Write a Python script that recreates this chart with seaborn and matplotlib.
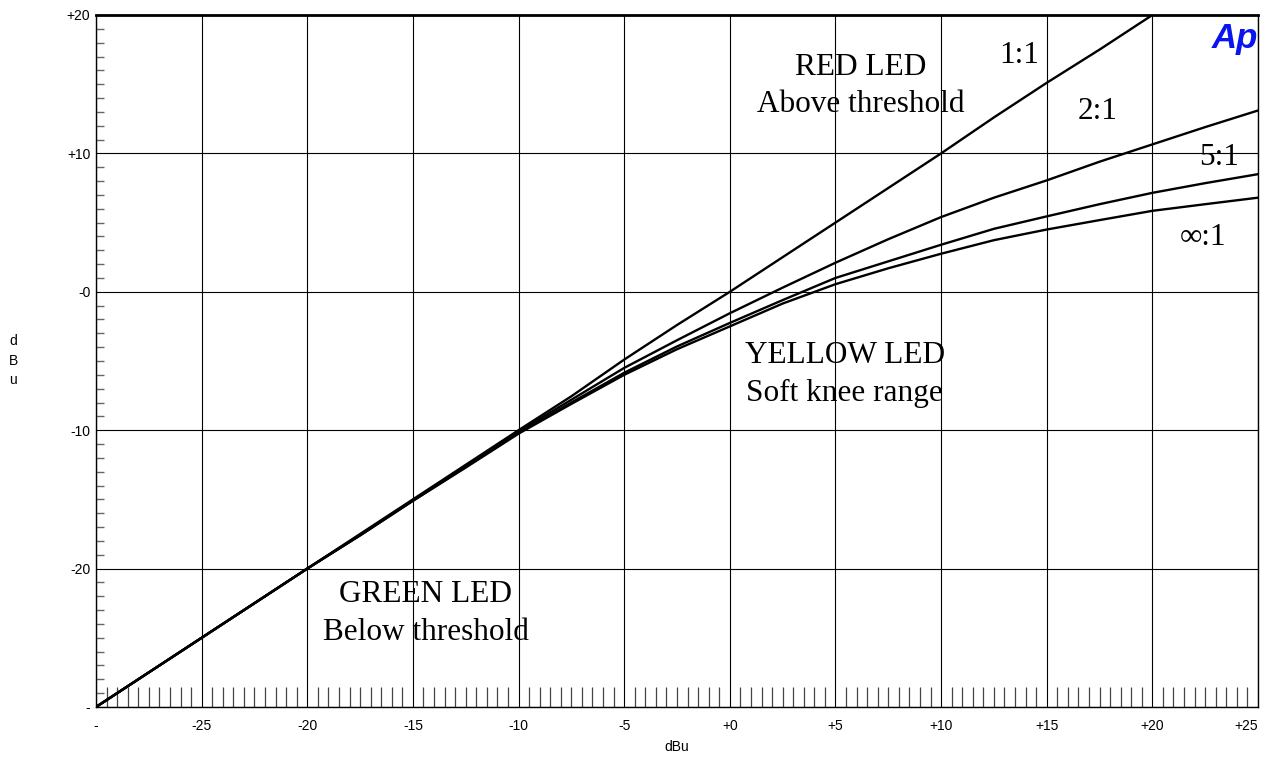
import matplotlib
matplotlib.use("Agg")
import matplotlib.pyplot as plt
import seaborn as sns
import pandas as pd
from matplotlib.ticker import MultipleLocator, FixedLocator

sns.set_style("white")
plt.rcParams["font.family"] = ["Liberation Sans", "DejaVu Sans"]
plt.rcParams["text.color"] = "black"
plt.rcParams["axes.labelcolor"] = "black"
plt.rcParams["xtick.color"] = "black"
plt.rcParams["ytick.color"] = "black"

# Input level (dBu) and measured output level (dBu) for each ratio setting
level_in = [-30, -27.5, -25, -22.5, -20, -17.5, -15, -12.5, -10, -7.5, -5, -2.5,
            0, 2.5, 5, 7.5, 10, 12.5, 15, 17.5, 20, 22.5, 25]
out_1_1 = [-30, -27.5, -25, -22.5, -20, -17.5, -15, -12.5, -10, -7.55, -4.9, -2.4,
           0, 2.5, 5.0, 7.5, 10.0, 12.6, 15.1, 17.5, 20.0]
out_2_1 = [-30, -27.5, -25, -22.5, -20, -17.55, -15.05, -12.6, -10.1, -7.8, -5.5, -3.5,
           -1.55, 0.3, 2.1, 3.8, 5.4, 6.8, 8.05, 9.4, 10.65, 11.9, 13.1]
out_5_1 = [-30, -27.5, -25, -22.5, -20, -17.6, -15.1, -12.65, -10.2, -8.0, -5.85, -3.95,
           -2.25, -0.6, 1.0, 2.2, 3.4, 4.55, 5.45, 6.33, 7.15, 7.85, 8.5]
out_inf_1 = [-30, -27.5, -25, -22.5, -20, -17.6, -15.1, -12.7, -10.25, -8.1, -6.0, -4.15,
             -2.5, -0.85, 0.55, 1.7, 2.75, 3.73, 4.5, 5.18, 5.85, 6.33, 6.8]

series = {"1:1": out_1_1, "2:1": out_2_1, "5:1": out_5_1, "∞:1": out_inf_1}

x_ticks = [-30, -25, -20, -15, -10, -5, 0, 5, 10, 15, 20, 25]
x_tick_labels = ["-", "-25", "-20", "-15", "-10", "-5", "+0", "+5", "+10", "+15", "+20", "+25"]
y_ticks = [-30, -20, -10, 0, 10, 20]
y_tick_labels = ["-", "-20", "-10", "-0", "+10", "+20"]

frames = []
for name, vals in series.items():
    frames.append(pd.DataFrame({"in": level_in[:len(vals)], "out": vals, "ratio": name}))
df = pd.concat(frames, ignore_index=True)

fig = plt.figure(figsize=(12.65, 7.6), dpi=100)
ax = fig.add_axes([96 / 1265, 1 - 707 / 760, (1258 - 96) / 1265, (707 - 15) / 760])

sns.lineplot(data=df, x="in", y="out", hue="ratio", units="ratio", estimator=None,
             palette=["black"] * 4, linewidth=1.7, legend=False, ax=ax, sort=False,
             zorder=3)

ax.set_xlim(-30, 25)
ax.set_ylim(-30, 20)

ax.xaxis.set_major_locator(FixedLocator(x_ticks))
ax.set_xticklabels(x_tick_labels)
ax.yaxis.set_major_locator(FixedLocator(y_ticks))
ax.set_yticklabels(y_tick_labels)
ax.xaxis.set_minor_locator(MultipleLocator(0.5))
ax.yaxis.set_minor_locator(MultipleLocator(1))

ax.tick_params(axis="x", which="major", direction="in", length=0, pad=9, labelsize=10)
ax.tick_params(axis="y", which="major", direction="in", length=0, pad=4, labelsize=10)
ax.tick_params(axis="x", which="minor", direction="in", length=14.5, width=0.9,
               color="#444444", bottom=True)
ax.tick_params(axis="y", which="minor", direction="in", length=6, width=1.0,
               color="#666666", left=True)
ax.xaxis.set_ticks_position("bottom")
ax.yaxis.set_ticks_position("left")
ax.get_xticklabels()[-1].set_ha("right")

ax.grid(True, which="major", color="black", linewidth=0.8)
for side in ["left", "right", "bottom"]:
    ax.spines[side].set_color("black")
    ax.spines[side].set_linewidth(1.0)
ax.spines["top"].set_color("black")
ax.spines["top"].set_linewidth(2.0)

ax.set_xlabel("dBu", fontsize=10, labelpad=5)
ax.set_ylabel("d\nB\nu", fontsize=10, rotation=0, linespacing=1.5, va="center", ha="center")
ax.yaxis.set_label_coords(-83 / 1162, 0.5)

serif = ["Liberation Serif", "DejaVu Serif"]
fs = 22.5
ax.text(6.2, 16.2, "RED LED", family=serif, fontsize=fs, ha="center", va="center")
ax.text(6.2, 13.5, "Above threshold", family=serif, fontsize=fs, ha="center", va="center")
ax.text(5.45, -4.6, "YELLOW LED", family=serif, fontsize=fs, ha="center", va="center")
ax.text(5.4, -7.35, "Soft knee range", family=serif, fontsize=fs, ha="center", va="center")
ax.text(-14.4, -21.9, "GREEN LED", family=serif, fontsize=fs, ha="center", va="center")
ax.text(-14.4, -24.6, "Below threshold", family=serif, fontsize=fs, ha="center", va="center")

ax.text(13.7, 17.1, "1:1", family=serif, fontsize=fs, ha="center", va="center")
ax.text(17.4, 13.0, "2:1", family=serif, fontsize=fs, ha="center", va="center")
ax.text(23.15, 9.7, "5:1", family=serif, fontsize=fs, ha="center", va="center")
ax.text(22.4, 3.9, "∞:1", family=serif, fontsize=fs, ha="center", va="center")

ax.text(23.9, 18.3, "Ap", family=["Liberation Sans", "DejaVu Sans"], fontsize=25,
        fontweight="bold", fontstyle="italic", color="#0a14f0", ha="center", va="center")

fig.savefig("out.png", dpi=100)
